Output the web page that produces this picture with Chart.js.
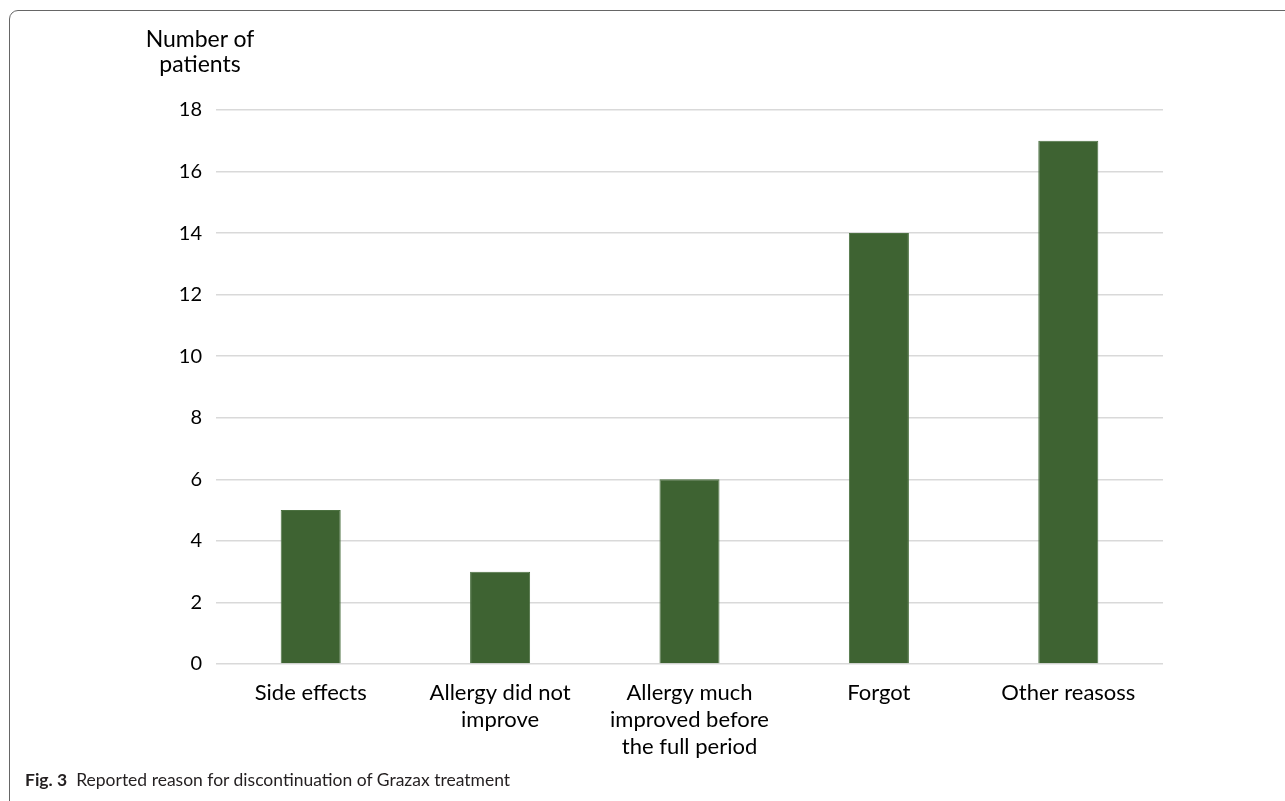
<!DOCTYPE html>
<html>
<head>
<meta charset="utf-8">
<script src="https://cdn.jsdelivr.net/npm/chart.js@4/dist/chart.umd.min.js"></script>
<style>
  html, body { margin: 0; padding: 0; background: #fff; }
  body { width: 1285px; height: 801px; position: relative; overflow: hidden; font-family: Lato, "Open Sans", sans-serif; }
  #frame { position: absolute; left: 9px; top: 10px; width: 1400px; height: 800px; border: 1.5px solid #666; border-radius: 9px; box-sizing: border-box; }
  #wrap { position: absolute; left: 0; top: 0; width: 1285px; height: 801px; }
  #ytitle { position: absolute; left: 100px; width: 200px; top: 26px; text-align: center; font-family: Lato, sans-serif; font-size: 23px; line-height: 25px; color: #000; }
  #caption { position: absolute; left: 25px; top: 769px; font-family: Lato, "Open Sans", sans-serif; font-size: 17.5px; line-height: 22px; color: #231f20; white-space: nowrap; }
  #caption b { font-weight: 700; margin-right: 9px; }
</style>
</head>
<body>
<div id="frame"></div>
<div id="wrap"><canvas id="c" width="1285" height="801"></canvas></div>
<div id="ytitle">Number of<br>patients</div>
<div id="caption"><b>Fig. 3</b>Reported reason for discontinuation of Grazax treatment</div>
<script>
const categories = [
  "Side effects",
  ["Allergy did not", "improve"],
  ["Allergy much", "improved before", "the full period"],
  "Forgot",
  "Other reasoss"
];
const patients = [5, 3, 6, 14, 17];
const yTicks = [0, 2, 4, 6, 8, 10, 12, 14, 16, 18];

new Chart(document.getElementById('c'), {
  type: 'bar',
  data: {
    labels: categories,
    datasets: [{
      label: 'Number of patients',
      data: patients,
      backgroundColor: '#3e6332',
      borderColor: '#4c7141',
      borderWidth: 1,
      barPercentage: 0.317,
      categoryPercentage: 1.0
    }]
  },
  options: {
    responsive: false,
    animation: false,
    devicePixelRatio: 1,
    layout: { padding: { left: 0, top: 110, right: 122, bottom: 0 } },
    plugins: { legend: { display: false }, tooltip: { enabled: false }, title: { display: false } },
    scales: {
      x: {
        grid: { display: false, drawTicks: false },
        border: { display: false },
        ticks: {
          color: '#000',
          font: { family: 'Lato', size: 22, lineHeight: 1.23 },
          padding: 15,
          maxRotation: 0,
          autoSkip: false
        },
        afterFit: (s) => { s.height = 137; }
      },
      y: {
        min: 0,
        max: 18,
        afterBuildTicks: (s) => { s.ticks = yTicks.map(v => ({ value: v })); },
        grid: { color: '#d9d9d9', lineWidth: 1.5, drawTicks: false },
        border: { display: false },
        ticks: {
          color: '#000',
          font: { family: 'Lato', size: 20 },
          padding: 14
        },
        afterFit: (s) => { s.width = 216; }
      }
    }
  }
});
</script>
</body>
</html>
